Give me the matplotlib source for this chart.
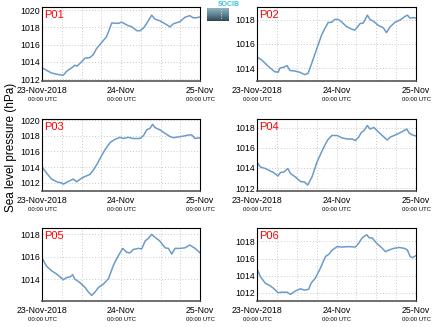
import numpy as np
import matplotlib
matplotlib.use('Agg')
from matplotlib import pyplot
from matplotlib.colors import LinearSegmentedColormap

pyplot.rcParams['font.family'] = ['Liberation Sans', 'DejaVu Sans']

# hours since 23-Nov-2018 00:00 UTC, sea level pressure (hPa)
hours_p01 = [0, 1.4, 2.9, 4.5, 6.0, 6.5, 7.5, 9.0, 10.0, 10.7, 12.0, 13.0, 14.6, 15.6, 16.6, 17.6, 19.6,
             21.2, 23.2, 24.2, 25.8, 27.3, 28.8, 29.8, 30.8, 31.8, 33.3, 34.3, 35.8, 37.4, 38.9, 39.9,
             41.9, 43.4, 44.9, 45.9, 46.9, 48]
slp_p01 = [1013.3, 1013.0, 1012.7, 1012.55, 1012.45, 1012.45, 1012.9, 1013.3, 1013.6, 1013.5, 1014.0,
           1014.4, 1014.5, 1014.85, 1015.55, 1016.0, 1016.9, 1018.5, 1018.45, 1018.6, 1018.25, 1018.05,
           1017.6, 1017.6, 1017.9, 1018.45, 1019.4, 1018.95, 1018.75, 1018.4, 1018.05, 1018.4, 1018.65,
           1019.15, 1019.35, 1019.1, 1019.1, 1019.2]

hours_p02 = [0, 1.3, 2.8, 4.0, 5.3, 6.4, 6.9, 7.9, 9.1, 9.9, 11.4, 12.9, 14.4, 15.4, 16.4, 17.9, 19.5,
             20.5, 21.5, 22.5, 23.5, 24.5, 25.5, 27.0, 28.5, 29.5, 30.0, 31.1, 32.1, 33.3, 34.1, 35.1,
             36.6, 38.1, 39.1, 40.1, 41.6, 43.2, 44.7, 45.4, 46.2, 47.2, 48]
slp_p02 = [1014.9, 1014.7, 1014.3, 1014.0, 1013.7, 1013.65, 1014.0, 1014.05, 1014.2, 1013.8, 1013.75,
           1013.65, 1013.45, 1013.55, 1014.3, 1015.5, 1016.75, 1017.3, 1017.8, 1017.8, 1018.05, 1018.05,
           1017.85, 1017.45, 1017.25, 1017.15, 1017.3, 1017.7, 1017.75, 1018.4, 1018.05, 1017.9, 1017.55,
           1017.35, 1016.95, 1017.4, 1017.8, 1018.0, 1018.3, 1018.4, 1018.15, 1018.2, 1018.15]

hours_p03 = [0, 1.4, 2.9, 4.5, 6.0, 6.5, 7.5, 9.0, 9.5, 10.5, 12.0, 13.5, 14.6, 15.6, 16.6, 17.6, 19.1,
             20.7, 22.2, 23.7, 24.7, 26.2, 27.7, 29.7, 30.8, 31.8, 32.8, 33.6, 34.3, 35.8, 37.4, 38.9,
             39.9, 41.4, 42.9, 44.5, 45.5, 46.5, 48]
slp_p03 = [1014.05, 1013.25, 1012.5, 1012.15, 1012.0, 1011.85, 1012.1, 1012.4, 1012.5, 1012.15, 1012.6,
           1012.9, 1013.1, 1013.65, 1014.3, 1015.1, 1016.2, 1017.15, 1017.55, 1017.8, 1017.65, 1017.8,
           1017.65, 1017.65, 1018.0, 1018.75, 1018.95, 1019.45, 1019.05, 1018.75, 1018.3, 1017.9,
           1017.75, 1017.85, 1017.95, 1018.1, 1018.1, 1017.65, 1017.75]

hours_p04 = [0, 1.0, 2.5, 4.0, 5.0, 6.3, 7.1, 8.1, 9.3, 10.1, 11.6, 13.1, 14.3, 15.3, 16.6, 18.1, 19.9,
             21.3, 22.6, 24.2, 25.7, 27.2, 28.7, 29.7, 30.7, 31.5, 32.3, 33.3, 34.1, 35.3, 36.8, 38.3,
             39.3, 40.3, 42.4, 43.9, 45.2, 45.9, 46.9, 48]
slp_p04 = [1014.6, 1014.1, 1013.95, 1013.7, 1013.55, 1013.2, 1013.55, 1013.6, 1013.95, 1013.45, 1013.1,
           1012.65, 1012.6, 1012.3, 1013.1, 1014.6, 1015.9, 1016.8, 1017.25, 1017.25, 1017.0, 1016.9,
           1016.9, 1016.75, 1017.1, 1017.55, 1017.75, 1018.25, 1017.9, 1018.05, 1017.55, 1017.1, 1016.8,
           1017.1, 1017.4, 1017.65, 1017.9, 1017.5, 1017.3, 1017.2]

hours_p05 = [0, 1.4, 2.9, 4.5, 6.5, 7.5, 8.5, 9.3, 10.0, 11.5, 13.1, 14.1, 15.1, 16.1, 17.1, 18.6, 20.2,
             21.7, 23.2, 24.5, 25.7, 26.7, 27.7, 29.3, 30.3, 31.3, 32.3, 33.3, 34.3, 35.8, 37.4, 38.4,
             39.4, 40.4, 41.9, 43.4, 44.9, 46.5, 48]
slp_p05 = [1015.9, 1015.15, 1014.75, 1014.45, 1013.95, 1014.15, 1014.2, 1014.4, 1014.0, 1013.7, 1013.25,
           1012.85, 1012.55, 1012.85, 1013.25, 1013.55, 1014.05, 1015.25, 1016.1, 1016.75, 1016.4,
           1016.35, 1016.65, 1016.75, 1016.7, 1017.4, 1017.65, 1018.0, 1017.75, 1017.4, 1016.8, 1016.75,
           1016.25, 1016.75, 1016.75, 1016.8, 1017.05, 1016.75, 1016.35]

hours_p06 = [0, 1.0, 2.5, 4.0, 5.0, 6.3, 7.6, 9.1, 10.1, 11.6, 13.1, 14.3, 15.6, 16.3, 17.6, 19.1, 20.7,
             21.7, 22.7, 24.2, 25.7, 27.7, 29.7, 30.7, 31.7, 33.1, 33.8, 34.8, 36.1, 37.8, 38.8, 39.8,
             41.4, 42.9, 44.4, 45.4, 46.2, 46.9, 48]
slp_p06 = [1014.8, 1013.9, 1013.1, 1012.8, 1012.5, 1012.0, 1012.05, 1012.05, 1011.8, 1012.2, 1012.45,
           1012.3, 1012.4, 1013.1, 1013.7, 1014.85, 1016.25, 1016.5, 1017.0, 1017.4, 1017.35, 1017.4,
           1017.35, 1017.8, 1018.4, 1018.8, 1018.45, 1018.4, 1017.8, 1017.2, 1016.8, 1017.0, 1017.2,
           1017.3, 1017.2, 1017.0, 1016.25, 1016.1, 1016.35]

station_names = ['P01', 'P02', 'P03', 'P04', 'P05', 'P06']
all_hours = [hours_p01, hours_p02, hours_p03, hours_p04, hours_p05, hours_p06]
all_slp = [slp_p01, slp_p02, slp_p03, slp_p04, slp_p05, slp_p06]
y_limits = [(1011.77, 1020.35), (1012.92, 1019.08), (1010.98, 1020.13),
            (1011.7, 1018.9), (1012.05, 1018.57), (1011.02, 1019.58)]

x_tick_labels = ['23-Nov-2018', '24-Nov', '25-Nov']
x_tick_hours = [0, 24, 48]
utc_label = '00:00 UTC'

# axes boxes (left, bottom, width, height)
col_left = [0.0968, 0.5922]
col_width = [0.3641, 0.3664]
row_bottom = [0.7523, 0.4159, 0.0795]
row_height = [0.2263, 0.2202, 0.2232]

fig = pyplot.figure(figsize=(4.34, 3.27), dpi=100)

for i in range(6):
    row = i // 2
    col = i % 2
    ax = fig.add_axes([col_left[col], row_bottom[row], col_width[col], row_height[row]])
    ax.plot(all_hours[i], all_slp[i], color='#6b9bc9', linewidth=1.1)
    ax.set_xlim(0, 48)
    ax.set_ylim(*y_limits[i])
    lo = int(np.ceil(y_limits[i][0] / 2.0) * 2)
    ax.set_yticks(np.arange(lo, y_limits[i][1], 2))
    ax.set_xticks(np.arange(0, 49, 6), minor=True)
    ax.set_xticks(x_tick_hours)
    ax.set_xticklabels(x_tick_labels)
    ax.grid(True, which='both', color='#c8c8c8', linestyle=(0, (1, 2)), linewidth=0.7)
    ax.tick_params(which='both', length=0)
    ax.tick_params(axis='x', labelsize=6.3, pad=3.6)
    ax.tick_params(axis='y', labelsize=6.3, pad=1.5)
    for side in ['top', 'left', 'right']:
        ax.spines[side].set_linewidth(0.8)
        ax.spines[side].set_color('black')
    ax.spines['bottom'].set_linewidth(1.2)
    ax.spines['bottom'].set_color('#555555')
    for t in x_tick_hours:
        ax.annotate(utc_label, xy=(t, 0), xycoords=('data', 'axes fraction'),
                    xytext=(0, -11.8), textcoords='offset points',
                    ha='center', va='top', fontsize=4.3)
    ax.annotate(station_names[i], xy=(0, 1), xycoords='axes fraction',
                xytext=(1.5, -2.0), textcoords='offset points',
                ha='left', va='top', fontsize=8, color='#ff0000')

fig.text(0.025, 0.55, 'Sea level pressure (hPa)', rotation=90, ha='center', va='center', fontsize=8.5)

# small logo at the top centre
fig.text(0.5275, 0.997, 'SOCIB', ha='center', va='top', fontsize=5, color='#3cc0dc', fontweight='bold')
logo_cmap = LinearSegmentedColormap.from_list('logo', ['#8fb3c2', '#5f8494', '#2e4754'])
logo_ax = fig.add_axes([207 / 434.0, 1 - 21 / 327.0, 22 / 434.0, 13 / 327.0])
gradient = np.linspace(0, 1, 50).reshape(-1, 1)
logo_ax.imshow(gradient, aspect='auto', cmap=logo_cmap)
logo_ax.plot([0.15, 0.15], [8, 42], color='white', linestyle=(0, (1, 2)), linewidth=0.6)
logo_ax.set_xlim(-0.5, 0.5)
logo_ax.axis('off')

pyplot.savefig('out.png', dpi=100)
pyplot.close()
